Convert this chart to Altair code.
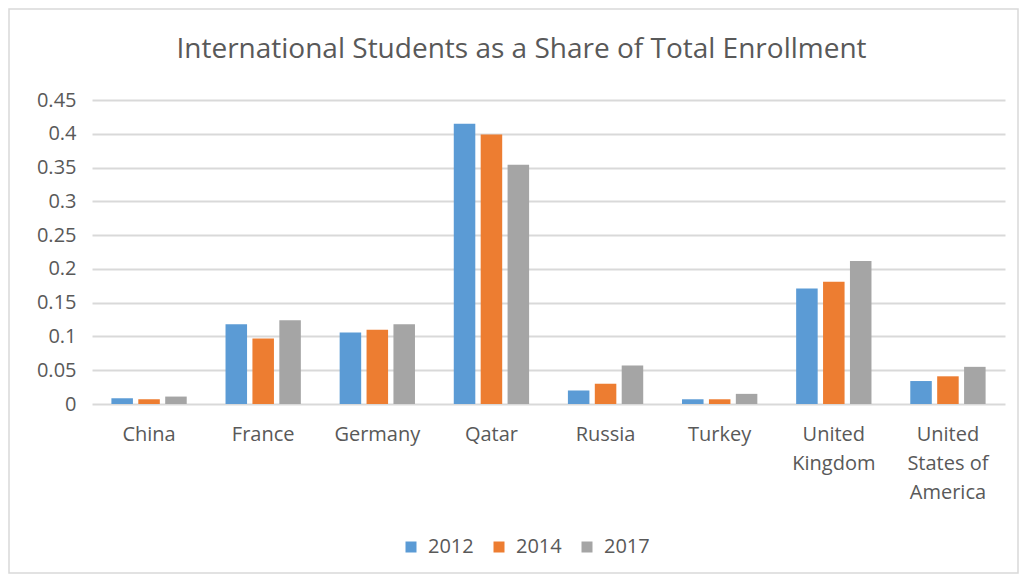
import altair as alt
import pandas as pd

countries = ["China", "France", "Germany", "Qatar", "Russia", "Turkey",
             "United Kingdom", "United States of America"]
years = ["2012", "2014", "2017"]
v2012 = [0.0085, 0.118, 0.106, 0.415, 0.020, 0.007, 0.171, 0.034]
v2014 = [0.007, 0.097, 0.110, 0.399, 0.030, 0.007, 0.181, 0.041]
v2017 = [0.011, 0.124, 0.118, 0.354, 0.057, 0.015, 0.2115, 0.055]
y_ticks = [0, 0.05, 0.1, 0.15, 0.2, 0.25, 0.3, 0.35, 0.4, 0.45]
colors = ["#5B9BD5", "#ED7D31", "#A5A5A5"]

rows = []
for yr, vals in zip(years, [v2012, v2014, v2017]):
    for c, v in zip(countries, vals):
        rows.append({"country": c, "year": yr, "value": v})
df = pd.DataFrame(rows)

FONT = "Open Sans"
TXT = "#595959"

label_expr = ("datum.label == 'United Kingdom' ? ['United', 'Kingdom'] : "
              "datum.label == 'United States of America' ? ['United', 'States of', 'America'] : datum.label")

bars = alt.Chart(df).mark_bar().encode(
    x=alt.X("country:N", sort=countries, title=None,
            scale=alt.Scale(paddingInner=0.34, paddingOuter=0.17),
            axis=alt.Axis(labelExpr=label_expr, labelAngle=0, labelFont=FONT,
                          labelFontSize=20, labelColor=TXT, labelPadding=20,
                          labelLineHeight=29, domain=False, ticks=False)),
    xOffset=alt.XOffset("year:N", sort=years, scale=alt.Scale(paddingInner=0.2)),
    y=alt.Y("value:Q", title=None,
            scale=alt.Scale(domain=[0, 0.45], nice=False),
            axis=alt.Axis(values=y_ticks, format=".2~f", labelFont=FONT,
                          labelFontSize=20, labelColor=TXT, labelPadding=16,
                          domain=False, ticks=False, gridColor="#D9D9D9",
                          gridWidth=2)),
    color=alt.Color("year:N", sort=years,
                    scale=alt.Scale(domain=years, range=colors),
                    legend=alt.Legend(title=None, orient="none", direction="horizontal",
                                      legendX=309, legendY=437,
                                      symbolType="square", symbolSize=121,
                                      symbolStrokeWidth=0,
                                      labelFont=FONT, labelFontSize=20,
                                      labelColor=TXT, columnPadding=15,
                                      labelOffset=7)),
)

border = alt.Chart(pd.DataFrame({"a": [0]})).mark_rect(
    fill=None, stroke="#D9D9D9", strokeWidth=1.5
).encode(x=alt.value(-83), x2=alt.value(926), y=alt.value(-91), y2=alt.value(473))

chart = alt.layer(border, bars).properties(
    width=913, height=304,
    padding={"left": 84, "top": 92, "right": 14, "bottom": 171},
    autosize=alt.AutoSizeParams(type="none"),
    title=alt.TitleParams("International Students as a Share of Total Enrollment",
                          font=FONT, fontSize=28, fontWeight="normal", color=TXT,
                          anchor="middle", dx=-27, offset=-56),
).configure_view(stroke=None)

chart.save("out.html", embed_options={"renderer": "svg", "actions": False})
